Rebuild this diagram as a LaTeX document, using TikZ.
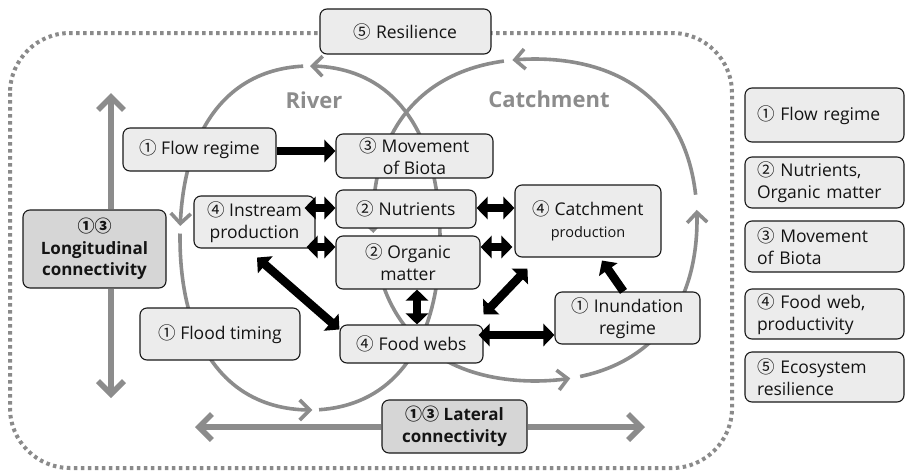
\documentclass[tikz,border=0pt]{standalone}
\usepackage{fontspec}
\setmainfont{Open Sans}
\newfontfamily\cjkf{Noto Sans CJK KR}
\usetikzlibrary{arrows.meta}
\newcommand\cn[1]{{\cjkf #1}}
\definecolor{boxfill}{RGB}{236,236,236}
\definecolor{darkfill}{RGB}{214,214,214}
\definecolor{cgray}{RGB}{140,140,140}
\definecolor{dotgray}{RGB}{138,138,138}
\definecolor{txt}{RGB}{20,20,20}
\tikzset{
  box/.style={draw=black!90, line width=1.1pt, rounded corners=7pt, fill=boxfill,
    inner sep=0pt, align=center, text=txt, font=\fontsize{17.5}{22}\selectfont},
  darkbox/.style={box, fill=darkfill, font=\bfseries\fontsize{17}{21.5}\selectfont},
  legbox/.style={box, minimum width=159pt, text width=135pt, align=left},
  cyc/.style={draw=cgray, line width=3.6pt, -{Straight Barb[length=10pt,width=20pt]}},
  bigarrow/.style={draw=cgray, line width=5.5pt, -{Straight Barb[length=13pt,width=26pt]}},
  barrow/.style={draw=black, line width=8.5pt, {Triangle[length=11pt,width=22pt]}-{Triangle[length=11pt,width=22pt]}},
  bsingle/.style={draw=black, line width=8.5pt, -{Triangle[length=11pt,width=22pt]}},
  outer/.style={draw=dotgray, line width=4pt, dash pattern=on 3.5pt off 3.5pt, rounded corners=60pt},
  lbl/.style={text=cgray, font=\bfseries\fontsize{22}{26}\selectfont}
}
\begin{document}
\begin{tikzpicture}[x=1pt,y=-1pt]
\useasboundingbox (0,0) rectangle (905,472);
% outer dotted frame
\draw[outer] (10,33) rectangle (732,468);
% River cycle (center 310,238)
\draw[cyc] plot[domain=86:-90, samples=80] ({310+130*cos(\x)*(1+0.04*pow(sin(2*\x),2))}, {238+172*sin(\x)*(1+0.04*pow(sin(2*\x),2))});
\draw[cyc] plot[domain=267:184, samples=50] ({310+130*cos(\x)*(1+0.04*pow(sin(2*\x),2))}, {238+172*sin(\x)*(1+0.04*pow(sin(2*\x),2))});
\draw[cyc] plot[domain=181.5:89, samples=50] ({310+130*cos(\x)*(1+0.04*pow(sin(2*\x),2))}, {238+172*sin(\x)*(1+0.04*pow(sin(2*\x),2))});
% Catchment cycle (center 535,220)
\draw[cyc] plot[domain=-9:-98, samples=50] ({535+162*cos(\x)*(1+0.04*pow(sin(2*\x),2))}, {220+161*sin(\x)*(1+0.04*pow(sin(2*\x),2))});
\draw[cyc] plot[domain=259:175.4, samples=50] ({535+162*cos(\x)*(1+0.04*pow(sin(2*\x),2))}, {220+161*sin(\x)*(1+0.04*pow(sin(2*\x),2))});
\draw[cyc] plot[domain=172:77.5, samples=50] ({535+162*cos(\x)*(1+0.04*pow(sin(2*\x),2))}, {220+161*sin(\x)*(1+0.04*pow(sin(2*\x),2))});
\draw[cyc] plot[domain=74:-3.6, samples=50] ({535+162*cos(\x)*(1+0.04*pow(sin(2*\x),2))}, {220+161*sin(\x)*(1+0.04*pow(sin(2*\x),2))});
% labels
\node[lbl] (river) at (314,100) {River};
\node[lbl] (catchl) at (549,99) {Catchment};
% boxes
\node[box, minimum width=171pt, minimum height=45pt] (res) at (405.5,31.5) {\cn{⑤} Resilience};
\node[box, minimum width=153pt, minimum height=43pt] (flow) at (199.5,149.5) {\cn{①} Flow regime};
\node[box, minimum width=157pt, minimum height=44pt] (move) at (414.5,156) {\cn{③} Movement\\of Biota};
\node[box, minimum width=140pt, minimum height=38pt] (nutr) at (406,209) {\cn{②} Nutrients};
\node[box, minimum width=121pt, minimum height=52pt] (inst) at (254.5,222) {\cn{④} Instream\\production};
\node[box, minimum width=144pt, minimum height=53pt] (org) at (408,262.5) {\cn{②} Organic\\matter};
\node[box, minimum width=146pt, minimum height=72pt] (catch) at (588,221) {\cn{④} Catchment\\{\fontsize{14.5}{18}\selectfont production}};
\node[box, minimum width=143pt, minimum height=38pt] (food) at (411.5,344) {\cn{④} Food webs};
\node[box, minimum width=145pt, minimum height=52pt] (inund) at (627.5,318) {\cn{①} Inundation\\regime};
\node[box, minimum width=160pt, minimum height=52pt] (flood) at (220,334) {\cn{①} Flood timing};
\node[darkbox, minimum width=143pt, minimum height=78pt] (long) at (94.5,249) {{\cjkf\bfseries ①③}\\Longitudinal\\connectivity};
\node[darkbox, minimum width=145pt, minimum height=53pt] (lat) at (454.5,426.5) {{\cjkf\bfseries ①③} Lateral\\connectivity};
% legend
\node[legbox, minimum height=54pt] (l1) at (824.5,115) {\cn{①} Flow regime};
\node[legbox, minimum height=51pt] (l2) at (824.5,182.5) {\cn{②} Nutrients,\\Organic matter};
\node[legbox, minimum height=51pt] (l3) at (824.5,246.5) {\cn{③} Movement\\of Biota};
\node[legbox, minimum height=50pt] (l4) at (824.5,314) {\cn{④} Food web,\\productivity};
\node[legbox, minimum height=50pt] (l5) at (824.5,377) {\cn{⑤} Ecosystem\\resilience};
% gray connectivity arrows
\coordinate (lt) at (111,93);
\coordinate (lb) at (111,398);
\coordinate (ll) at (195,427);
\coordinate (lr) at (645,427);
\draw[bigarrow] (long.north -| lt) -- (lt);
\draw[bigarrow] (long.south -| lb) -- (lb);
\draw[bigarrow] (lat.west |- ll) -- (ll);
\draw[bigarrow] (lat.east |- lr) -- (lr);
% black arrows
\draw[bsingle] ([yshift=-1.5pt]flow.east) -- ([yshift=-1.5pt]flow.east -| move.west);
\draw[barrow] ([yshift=1pt]nutr.west) -- ([xshift=-11pt,yshift=1pt]nutr.west -| inst.east);
\draw[barrow] ([yshift=15.5pt]org.west) -- ([xshift=-9pt,yshift=15.5pt]org.west -| inst.east);
\draw[barrow] ([yshift=1pt]nutr.east) -- ([yshift=1pt]nutr.east -| catch.west);
\draw[barrow] ([yshift=15.5pt]org.east) -- ([xshift=-2pt,yshift=15.5pt]org.east -| catch.west);
\draw[barrow] ([xshift=2.5pt,yshift=-9pt]inst.south) -- ([yshift=-5pt]food.north west);
\draw[barrow] ([xshift=9pt]org.south) -- ([xshift=9pt]org.south |- food.north);
\draw[barrow] ([xshift=13pt,yshift=-11pt]catch.south west) -- ([yshift=10pt]food.north east);
\draw[barrow] ([yshift=-17pt]inund.west) -- ([xshift=-5pt,yshift=-17pt]inund.west -| food.east);
\draw[bsingle] ([xshift=-4pt]inund.north) -- ([xshift=14pt,yshift=-3pt]catch.south);
\end{tikzpicture}
\end{document}
